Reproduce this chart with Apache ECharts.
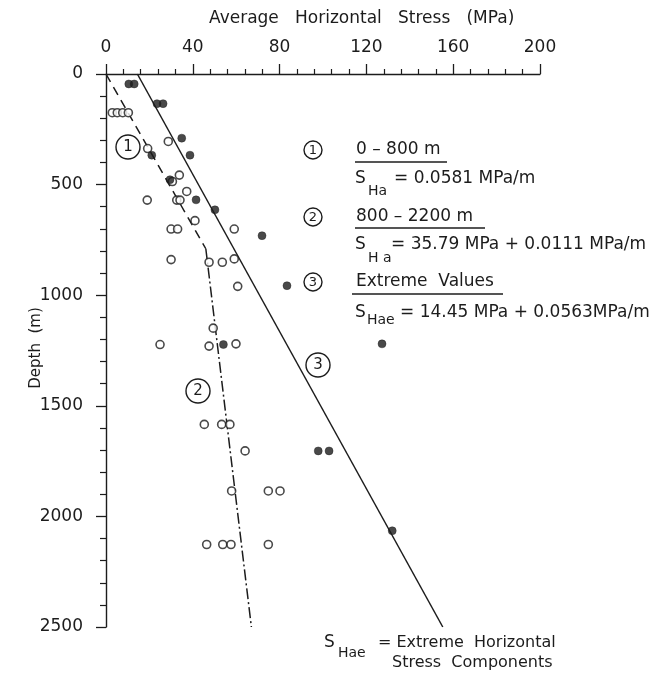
<!DOCTYPE html>
<html>
<head>
<meta charset="utf-8">
<script src="https://cdn.jsdelivr.net/npm/echarts@6/dist/echarts.min.js"></script>
<style>
html,body{margin:0;padding:0;background:#fff;}
#c{width:659px;height:678px;}
</style>
</head>
<body>
<div id="c"></div>
<script>
// ---- data ----
var xTicks = [0, 40, 80, 120, 160, 200];
var yTicks = [0, 500, 1000, 1500, 2000, 2500];

var openStress = [2.9, 5.2, 7.7, 10.3, 28.7, 19.2, 33.8, 30.6, 37.2, 19.0, 32.6, 34.1, 41.0,
  30.0, 33.0, 59.1, 30.0, 47.5, 53.6, 59.1, 60.7, 49.4, 24.9, 47.5, 59.9,
  45.3, 53.3, 57.1, 64.1, 57.9, 74.8, 80.2, 46.4, 53.8, 57.6, 74.8];
var openDepth = [175, 175, 175, 175, 305, 337, 457, 486, 531, 570, 570, 570, 663,
  701, 701, 701, 839, 851, 851, 836, 960, 1149, 1223, 1230, 1220,
  1584, 1584, 1584, 1704, 1885, 1885, 1885, 2127, 2127, 2127, 2127];

var filledStress = [10.5, 13.0, 23.5, 26.3, 34.9, 21.1, 38.7, 29.5, 41.5, 50.2, 71.9, 83.4, 54.1, 127.2, 97.8, 102.8, 131.9];
var filledDepth  = [45, 45, 134, 134, 290, 367, 367, 478, 569, 614, 731, 957, 1223, 1220, 1704, 1704, 2065];

var line1Stress = [0, 46];        var line1Depth = [0, 790];     // 0-800 m
var line2Stress = [46, 67];       var line2Depth = [790, 2500];  // 800-2200 m
var line3Stress = [14.45, 155.2]; var line3Depth = [0, 2500];    // extreme values

function pairs(a, b){ return a.map(function(v,i){ return [v, b[i]]; }); }

var INK = '#1c1c1c';
var FONT = 'DejaVu Sans';

function txt(x, y, s, size, align){
  return {type:'text', x:x, y:y, style:{text:s, fill:INK, font: (size||17)+'px "'+FONT+'"', textAlign: align||'left', textVerticalAlign:'middle'}, z:10};
}
function circ(cx, cy, r, label, size){
  return [
    {type:'circle', shape:{cx:cx, cy:cy, r:r}, style:{fill:'#fff', stroke:INK, lineWidth:1.4}, z:9},
    {type:'text', x:cx, y:cy+0.5, style:{text:label, fill:INK, font:(size||13)+'px "'+FONT+'"', textAlign:'center', textVerticalAlign:'middle'}, z:10}
  ];
}
function hline(x1, x2, y){
  return {type:'line', shape:{x1:x1, y1:y, x2:x2, y2:y}, style:{stroke:INK, lineWidth:1.3}, z:10};
}

var depthName = txt(36, 348, 'Depth  (m)', 15, 'center');
depthName.rotation = Math.PI / 2;

var graphics = [].concat(
  [txt(209, 19, 'Average   Horizontal   Stress   (MPa)', 17), depthName],
  circ(313, 150, 9, '1', 13),
  [txt(356, 150, '0 – 800 m'), hline(355, 447, 162),
   txt(355, 179, 'S'), txt(368, 191, 'Ha', 14), txt(394, 179, '= 0.0581 MPa/m')],
  circ(313, 217, 9, '2', 13),
  [txt(356, 217, '800 – 2200 m'), hline(355, 485, 228),
   txt(355, 245, 'S'), txt(368, 258, 'H a', 14), txt(391, 245, '= 35.79 MPa + 0.0111 MPa/m')],
  circ(313, 282, 9, '3', 13),
  [txt(356, 282, 'Extreme  Values'), hline(352, 503, 294),
   txt(355, 313, 'S'), txt(367, 320, 'Hae', 14), txt(400, 313, '= 14.45 MPa + 0.0563MPa/m')],
  circ(128, 147, 12, '1', 15),
  circ(198, 391, 12, '2', 15),
  circ(318, 365, 12, '3', 15),
  [txt(324, 643, 'S'), txt(338, 653, 'Hae', 14), txt(378, 643, '= Extreme  Horizontal', 16),
   txt(392, 663, 'Stress  Components', 16)]
);

var chart = echarts.init(document.getElementById('c'));
chart.setOption({
  backgroundColor: '#fff',
  animation: false,
  grid: {left: 106, right: 119, top: 74, bottom: 51, containLabel: false},
  xAxis: {
    type: 'value', position: 'top', min: xTicks[0], max: xTicks[xTicks.length-1], interval: 40,
    axisLine: {show: true, lineStyle: {color: INK, width: 1.4}},
    axisTick: {show: true, inside: false, length: 10, lineStyle: {color: INK, width: 1.3}},
    minorTick: {show: true, splitNumber: 5, length: 5, lineStyle: {color: INK, width: 1.2}},
    axisLabel: {color: INK, fontFamily: FONT, fontSize: 17, margin: 18, formatter: function(v){ return String(v); }},
    splitLine: {show: false}
  },
  yAxis: {
    type: 'value', inverse: true, min: yTicks[0], max: yTicks[yTicks.length-1], interval: 500,
    axisLine: {show: true, lineStyle: {color: INK, width: 1.4}},
    axisTick: {show: true, inside: false, length: 10, lineStyle: {color: INK, width: 1.3}},
    minorTick: {show: true, splitNumber: 5, length: 6, lineStyle: {color: INK, width: 1.2}},
    axisLabel: {color: INK, fontFamily: FONT, fontSize: 17, margin: 23, formatter: function(v){ return String(v); }},
    splitLine: {show: false}
  },
  graphic: graphics,
  series: [
    {type: 'line', data: pairs(line1Stress, line1Depth), symbol: 'none', silent: true,
     lineStyle: {color: INK, width: 1.5, type: [9, 6]}, z: 1},
    {type: 'line', data: pairs(line2Stress, line2Depth), symbol: 'none', silent: true,
     lineStyle: {color: INK, width: 1.5, type: [11, 3, 2, 3]}, z: 1},
    {type: 'line', data: pairs(line3Stress, line3Depth), symbol: 'none', silent: true,
     lineStyle: {color: INK, width: 1.5}, z: 1},
    {type: 'scatter', data: pairs(openStress, openDepth), symbol: 'circle', symbolSize: 8,
     itemStyle: {color: '#fff', borderColor: INK, borderWidth: 1.6}, z: 3},
    {type: 'scatter', data: pairs(filledStress, filledDepth), symbol: 'circle', symbolSize: 8,
     itemStyle: {color: INK, borderColor: INK, borderWidth: 0.5}, z: 4}
  ]
});
</script>
</body>
</html>
